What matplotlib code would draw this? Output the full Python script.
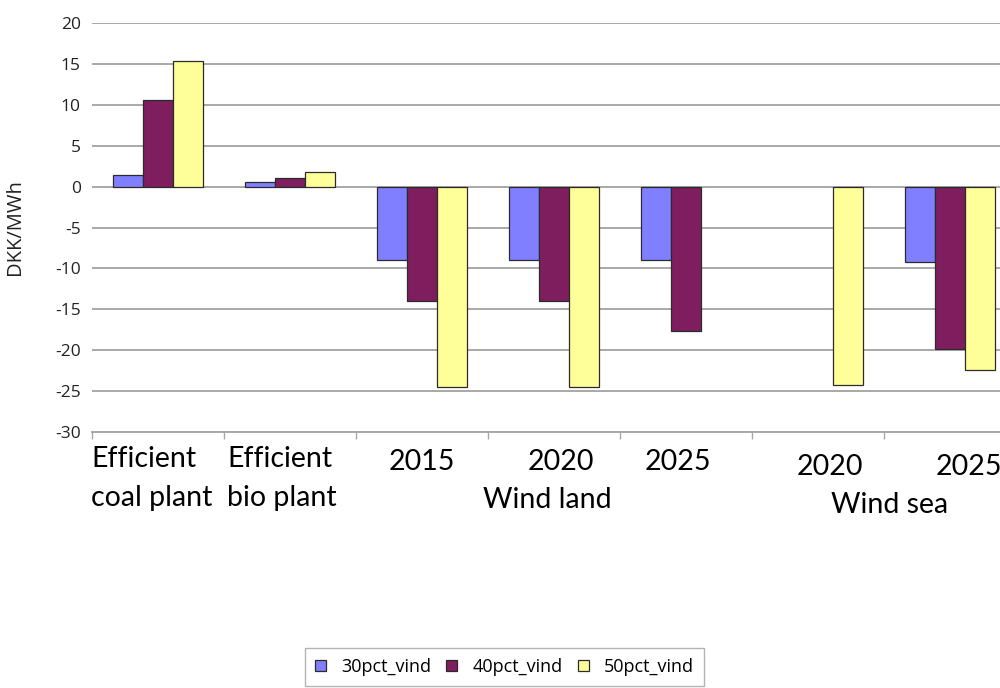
import numpy as np
import matplotlib
matplotlib.use("Agg")
import matplotlib.pyplot as plt
from matplotlib.patches import Patch
from matplotlib.transforms import blended_transform_factory

plt.rcParams["axes.unicode_minus"] = False

# ---------------- data ----------------
categories = ["Efficient\ncoal plant", "Efficient\nbio plant", "2015", "2020", "2025", "2020", "2025"]
group_labels = ["Wind land", "Wind sea"]
group_spans = [(2, 4), (5, 6)]
series_names = ["30pct_vind", "40pct_vind", "50pct_vind"]
s30 = [1.4, 0.6, -9.0, -9.0, -9.0, np.nan, -9.25]
s40 = [10.6, 1.0, -14.0, -14.0, -17.7, np.nan, -19.85]
s50 = [15.4, 1.75, -24.5, -24.5, np.nan, -24.25, -22.4]
yticks = [20, 15, 10, 5, 0, -5, -10, -15, -20, -25, -30]

colors = ["#7f7fff", "#7f1e5e", "#ffff99"]

W, H = 1000, 688
fig = plt.figure(figsize=(W / 100, H / 100), dpi=100)
ax = fig.add_axes([92 / W, 1 - 432 / H, 924 / W, (432 - 23) / H])

x = np.arange(len(categories))
bw = 0.227
for i, (vals, c, name) in enumerate(zip([s30, s40, s50], colors, series_names)):
    vals = np.asarray(vals, dtype=float)
    m = ~np.isnan(vals)
    ax.bar(x[m] + (i - 1) * bw, vals[m], width=bw, color=c, edgecolor="#2b2b2b",
           linewidth=0.9, zorder=3, label=name)

ax.set_xlim(-0.5, len(categories) - 0.5)
ax.set_ylim(-30, 20)
ax.set_yticks(yticks)
ax.grid(axis="y", color="#a8a8a8", linewidth=1.4, zorder=0)
ax.set_axisbelow(True)
for s in ["top", "right", "left"]:
    ax.spines[s].set_visible(False)
ax.spines["bottom"].set_color("#a8a8a8")
ax.spines["bottom"].set_linewidth(1.4)
ax.set_xticks(np.arange(len(categories) + 1) - 0.5)
ax.set_xticklabels([])
ax.tick_params(axis="x", direction="out", length=5, color="#a8a8a8", width=1.0)
ax.tick_params(axis="y", length=0, pad=8, labelsize=12.5, labelcolor="#222222")
for lab in ax.get_yticklabels():
    lab.set_fontfamily("Open Sans")
ax.set_ylabel("DKK/MWh", fontsize=14.5, fontfamily="Open Sans", color="#222222")
ax.yaxis.set_label_coords((25 - 92) / 924, 0.5)

# category labels (drawn as text under the axis)
tr = blended_transform_factory(ax.transData, fig.transFigure)
fy = lambda px: 1 - px / H
lab_font = dict(fontsize=20.5, fontfamily="Lato", color="black")
ax.text(-0.5 - 1 / 132, fy(467), "Efficient", transform=tr, ha="left", va="baseline", **lab_font)
ax.text(-0.5 - 1 / 132, fy(506), "coal plant", transform=tr, ha="left", va="baseline", **lab_font)
ax.text(0.5 + 3 / 132, fy(467), "Efficient", transform=tr, ha="left", va="baseline", **lab_font)
ax.text(0.5 + 3 / 132, fy(506), "bio plant", transform=tr, ha="left", va="baseline", **lab_font)
year_offsets = [0.0, 0.05, -0.06, 0.09, 0.14]
year_base = [470, 470, 470, 475, 475]
for k, idx in enumerate(range(2, 7)):
    ax.text(idx + year_offsets[k], fy(year_base[k]), categories[idx], transform=tr,
            ha="center", va="baseline", **lab_font)
group_offsets = [-0.05, 0.04]
group_base = [508, 513]
for g, ((a, b), name) in enumerate(zip(group_spans, group_labels)):
    ax.text((a + b) / 2 + group_offsets[g], fy(group_base[g]), name, transform=tr,
            ha="center", va="baseline", **lab_font)

handles = [Patch(facecolor=c, edgecolor="#2b2b2b", linewidth=0.9) for c in colors]
leg = fig.legend(handles, series_names, loc="upper left", bbox_to_anchor=(305 / W, fy(648)),
                 ncol=3, frameon=True, fancybox=False, edgecolor="#a0a0a0",
                 prop={"family": "Open Sans", "size": 13}, handlelength=0.6, handleheight=0.6,
                 handletextpad=0.85, columnspacing=0.85, borderpad=0.55, borderaxespad=0)
leg.get_frame().set_linewidth(1.0)

fig.savefig("out.png", dpi=100)
